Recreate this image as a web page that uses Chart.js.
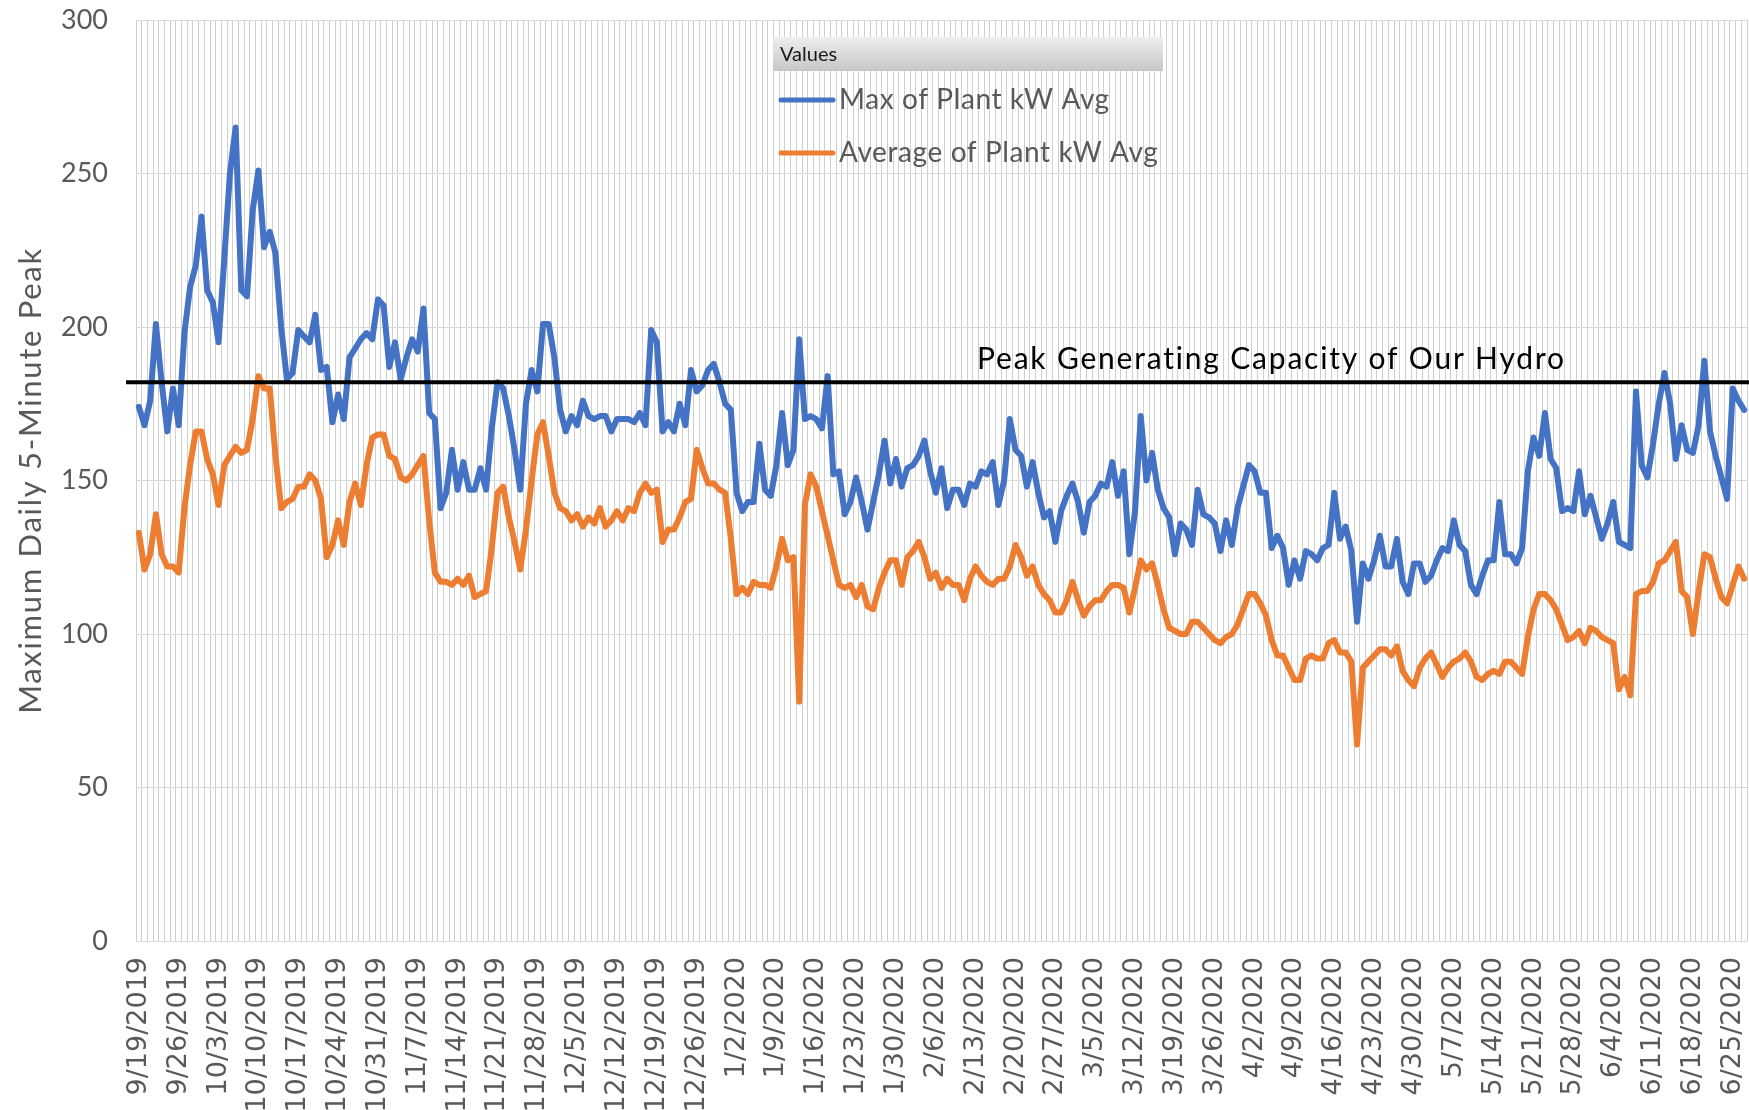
<!DOCTYPE html>
<html>
<head>
<meta charset="utf-8">
<script src="https://cdn.jsdelivr.net/npm/chart.js@4.4.1/dist/chart.umd.min.js"></script>
<style>
    html, body { margin: 0; padding: 0; background: #fff; overflow: hidden; }
    #wrap { width: 1749px; height: 1110px; position: relative; }
</style>
</head>
<body>
<div id="wrap"><canvas id="peak-chart"></canvas></div>
<script>
// === data (one value per day, starting 9/19/2019) ===
const firstDay = [2019, 8, 19];   // year, month (0-based), day

const maxKw = [
    174, 168, 176, 201, 182, 166, 180, 168, 198, 213,
    220, 236, 212, 208, 195, 222, 250, 265, 212, 210,
    238, 251, 226, 231, 224, 200, 183, 185, 199, 197,
    195, 204, 186, 187, 169, 178, 170, 190, 193, 196,
    198, 196, 209, 207, 187, 195, 183, 190, 196, 192,
    206, 172, 170, 141, 146, 160, 147, 156, 147, 147,
    154, 147, 167, 182, 180, 171, 160, 147, 175, 186,
    179, 201, 201, 190, 173, 166, 171, 168, 176, 171,
    170, 171, 171, 166, 170, 170, 170, 169, 172, 168,
    199, 195, 166, 169, 166, 175, 168, 186, 179, 181,
    186, 188, 182, 175, 173, 146, 140, 143, 143, 162,
    147, 145, 155, 172, 155, 160, 196, 170, 171, 170,
    167, 184, 152, 153, 139, 143, 151, 143, 134, 143,
    152, 163, 149, 157, 148, 154, 155, 158, 163, 153,
    146, 154, 141, 147, 147, 142, 149, 148, 153, 152,
    156, 142, 150, 170, 160, 158, 148, 156, 146, 138,
    140, 130, 140, 145, 149, 143, 133, 143, 145, 149,
    148, 156, 145, 153, 126, 140, 171, 150, 159, 147,
    141, 138, 126, 136, 134, 129, 147, 139, 138, 136,
    127, 137, 129, 141, 148, 155, 153, 146, 146, 128,
    132, 128, 116, 124, 118, 127, 126, 124, 128, 129,
    146, 131, 135, 127, 104, 123, 118, 124, 132, 122,
    122, 131, 117, 113, 123, 123, 117, 119, 124, 128,
    127, 137, 129, 127, 116, 113, 119, 124, 124, 143,
    126, 126, 123, 128, 153, 164, 158, 172, 157, 154,
    140, 141, 140, 153, 139, 145, 138, 131, 136, 143,
    130, 129, 128, 179, 155, 151, 162, 175, 185, 175,
    157, 168, 160, 159, 168, 189, 166, 158, 151, 144,
    180, 176, 173
];

const avgKw = [
    133, 121, 126, 139, 126, 122, 122, 120, 141, 155,
    166, 166, 157, 152, 142, 155, 158, 161, 159, 160,
    170, 184, 180, 180, 158, 141, 143, 144, 148, 148,
    152, 150, 144, 125, 129, 137, 129, 143, 149, 142,
    155, 164, 165, 165, 158, 157, 151, 150, 152, 155,
    158, 137, 120, 117, 117, 116, 118, 116, 119, 112,
    113, 114, 128, 146, 148, 138, 130, 121, 134, 150,
    165, 169, 158, 146, 141, 140, 137, 139, 135, 138,
    136, 141, 135, 137, 140, 137, 141, 140, 146, 149,
    146, 147, 130, 134, 134, 138, 143, 144, 160, 154,
    149, 149, 147, 146, 131, 113, 115, 113, 117, 116,
    116, 115, 122, 131, 124, 125, 78, 142, 152, 148,
    140, 132, 124, 116, 115, 116, 112, 116, 109, 108,
    115, 120, 124, 124, 116, 125, 127, 130, 125, 118,
    120, 115, 118, 116, 116, 111, 118, 122, 119, 117,
    116, 118, 118, 122, 129, 125, 119, 122, 116, 113,
    111, 107, 107, 111, 117, 111, 106, 109, 111, 111,
    114, 116, 116, 115, 107, 115, 124, 121, 123, 116,
    108, 102, 101, 100, 100, 104, 104, 102, 100, 98,
    97, 99, 100, 103, 108, 113, 113, 110, 106, 98,
    93, 93, 89, 85, 85, 92, 93, 92, 92, 97,
    98, 94, 94, 91, 64, 89, 91, 93, 95, 95,
    93, 96, 88, 85, 83, 89, 92, 94, 90, 86,
    89, 91, 92, 94, 91, 86, 85, 87, 88, 87,
    91, 91, 89, 87, 99, 108, 113, 113, 111, 108,
    103, 98, 99, 101, 97, 102, 101, 99, 98, 97,
    82, 86, 80, 113, 114, 114, 117, 123, 124, 127,
    130, 114, 112, 100, 114, 126, 125, 118, 112, 110,
    116, 122, 118
];

const hydroCapacity = 182;
const capacityLabel = 'Peak Generating Capacity of Our Hydro';
const seriesNames = ['Max of Plant kW Avg', 'Average of Plant kW Avg'];
const seriesColors = ['#4472C4', '#ED7D31'];
const yTitle = 'Maximum Daily 5-Minute Peak';
const labelEvery = 7;   // one date label per week

// daily category labels m/d/yyyy
const dayLabels = maxKw.map((_, i) => {
    const d = new Date(firstDay[0], firstDay[1], firstDay[2] + i);
    return `${d.getMonth() + 1}/${d.getDate()}/${d.getFullYear()}`;
});

// === black capacity line + its caption ===
const capacityLine = {
    id: 'capacityLine',
    afterDatasetsDraw(chart) {
        const { ctx, chartArea, scales } = chart;
        const y = scales.y.getPixelForValue(hydroCapacity);
        ctx.save();
        ctx.strokeStyle = '#000';
        ctx.lineWidth = 4;
        ctx.beginPath();
        ctx.moveTo(chartArea.left - 10, y);
        ctx.lineTo(chartArea.right + 2, y);
        ctx.stroke();
        ctx.fillStyle = '#000';
        ctx.font = '30px Lato';
        ctx.letterSpacing = '1.8px';
        ctx.textBaseline = 'alphabetic';
        ctx.fillText(capacityLabel, 977, y - 13);
        ctx.restore();
    }
};

// === y axis title, spaced out like the original ===
const axisTitle = {
    id: 'axisTitle',
    afterDraw(chart) {
        const { ctx, chartArea } = chart;
        ctx.save();
        ctx.translate(31, (chartArea.top + chartArea.bottom) / 2);
        ctx.rotate(-Math.PI / 2);
        ctx.fillStyle = '#595959';
        ctx.font = '31px Lato';
        ctx.letterSpacing = '1.7px';
        ctx.textAlign = 'center';
        ctx.textBaseline = 'middle';
        ctx.fillText(yTitle, 0, 0);
        ctx.restore();
    }
};

// === Excel-style legend box sitting on the plot ===
const legendBox = {
    id: 'legendBox',
    afterDraw(chart) {
        const ctx = chart.ctx;
        ctx.save();
        const g = ctx.createLinearGradient(0, 37, 0, 71);
        g.addColorStop(0, '#eeeeee');
        g.addColorStop(1, '#c6c6c6');
        ctx.fillStyle = g;
        ctx.fillRect(773, 37, 390, 34);
        ctx.fillStyle = '#1a1a1a';
        ctx.font = '20px Lato';
        ctx.textBaseline = 'middle';
        ctx.fillText('Values', 780, 55);

        const rows = [100, 153];
        rows.forEach((y, i) => {
            ctx.strokeStyle = seriesColors[i];
            ctx.lineWidth = 5;
            ctx.lineCap = 'round';
            ctx.beginPath();
            ctx.moveTo(781, y);
            ctx.lineTo(833, y);
            ctx.stroke();
            ctx.fillStyle = '#595959';
            ctx.font = '28px Lato';
            ctx.letterSpacing = '0.6px';
            ctx.fillText(seriesNames[i], 839, y);
        });
        ctx.restore();
    }
};

const ctx = document.getElementById('peak-chart').getContext('2d');

new Chart(ctx, {
    type: 'line',
    data: {
        labels: dayLabels,
        datasets: [{
            label: seriesNames[0],
            data: maxKw,
            borderColor: seriesColors[0],
            borderWidth: 6,
            pointRadius: 0,
            tension: 0,
            borderJoinStyle: 'round',
            borderCapStyle: 'round',
        }, {
            label: seriesNames[1],
            data: avgKw,
            borderColor: seriesColors[1],
            borderWidth: 6,
            pointRadius: 0,
            tension: 0,
            borderJoinStyle: 'round',
            borderCapStyle: 'round',
        }]
    },
    options: {
        responsive: true,
        maintainAspectRatio: false,
        animation: false,
        layout: {
            padding: { top: 20, right: 2, left: 0, bottom: 0 },
        },
        plugins: {
            legend: { display: false },
            tooltip: { enabled: false },
        },
        scales: {
            x: {
                offset: true,
                grid: {
                    offset: true,
                    color: '#cfcfcf',
                    lineWidth: 1,
                    drawTicks: false,
                },
                border: { display: false },
                ticks: {
                    autoSkip: false,
                    minRotation: 90,
                    maxRotation: 90,
                    padding: 16,
                    color: '#595959',
                    font: { family: 'DejaVu Sans', size: 27 },
                    callback: function(value, index) {
                        return index % labelEvery === 0 ? dayLabels[index] : '';
                    }
                },
                afterFit: function(scale) {
                    scale.height = 169;
                    scale.paddingLeft = 0;
                    scale.paddingRight = 0;
                }
            },
            y: {
                min: 0,
                max: 300,
                ticks: {
                    stepSize: 50,
                    padding: 28,
                    color: '#595959',
                    font: { family: 'Lato', size: 27 },
                },
                grid: {
                    color: '#d9d9d9',
                    lineWidth: 1,
                    drawTicks: false,
                },
                border: { display: false },
                afterFit: function(scale) {
                    scale.width = 136;
                    scale.paddingTop = 0;
                    scale.paddingBottom = 0;
                }
            }
        }
    },
    plugins: [capacityLine, axisTitle, legendBox]
});
</script>
</body>
</html>
